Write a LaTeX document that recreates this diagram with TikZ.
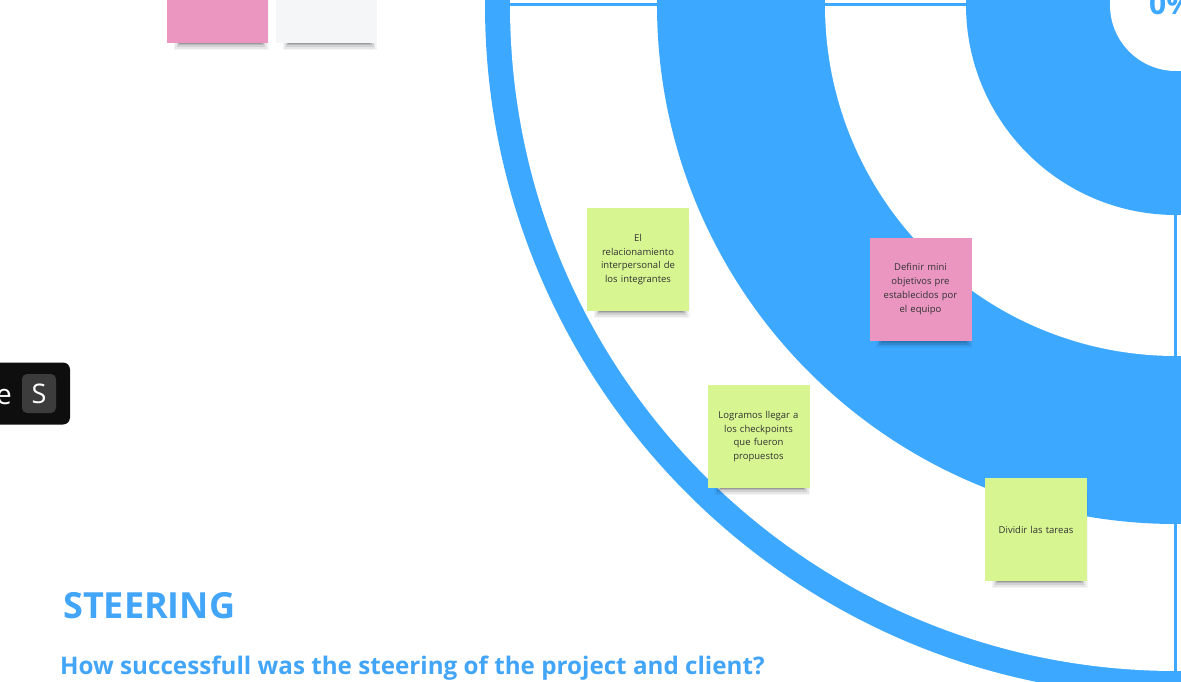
\documentclass[tikz,border=0pt]{standalone}
\usepackage{fontspec}
\setmainfont{Open Sans}
\usetikzlibrary{shadows}
\definecolor{tblue}{RGB}{60,168,255}
\definecolor{ttext}{RGB}{66,165,248}
\definecolor{sgreen}{RGB}{215,246,145}
\definecolor{spink}{RGB}{234,150,193}
\definecolor{swhite}{RGB}{245,246,248}
\definecolor{notetext}{RGB}{50,50,50}
\definecolor{tabblack}{RGB}{14,14,14}
\definecolor{keygray}{RGB}{60,60,60}
\begin{document}
\begin{tikzpicture}[x=1pt,y=-1pt,
  note/.style={minimum width=102pt, minimum height=103pt, inner sep=0pt,
    text width=96pt, align=center, font=\fontsize{9.5}{13.7}\selectfont, text=notetext,
    general shadow={fill=black, opacity=0.04, shadow scale=0.94, shadow xshift=4pt, shadow yshift=-11pt},
    general shadow={fill=black, opacity=0.06, shadow scale=0.91, shadow xshift=4pt, shadow yshift=-11.5pt},
    general shadow={fill=black, opacity=0.09, shadow scale=0.88, shadow xshift=4pt, shadow yshift=-12pt},
    general shadow={fill=black, opacity=0.12, shadow scale=0.85, shadow xshift=4pt, shadow yshift=-12pt},
    general shadow={fill=black, opacity=0.16, shadow scale=0.82, shadow xshift=4pt, shadow yshift=-12pt}},
  ring/.style={fill=tblue},
  hole/.style={fill=white},
  axis/.style={draw=tblue, line width=3pt},
  label/.style={anchor=base west, inner sep=0pt, text=ttext, font=\bfseries\fontsize{#1}{#1}\selectfont},
]
\useasboundingbox (0,0) rectangle (1181,682);
\begin{scope}
\clip (0,0) rectangle (1181,682);
\fill[ring] (1176,5) circle[radius=691pt];
\fill[hole] (1176,5) circle[radius=666pt];
\fill[ring] (1176,5) circle[radius=519pt];
\fill[hole] (1176,5) circle[radius=351pt];
\fill[ring] (1176,5) circle[radius=210pt];
\coordinate (c) at (1176,5);
\coordinate (hl) at (510,5);
\coordinate (hr) at (1181,5);
\coordinate (vb) at (1175.5,690);
\coordinate (vt) at (1175.5,5);
\draw[axis] (hl) -- (hr);
\draw[axis] (vt) -- (vb);
\fill[hole] (c) circle[radius=66pt];
\node[anchor=base west, inner sep=0pt, text=tblue, font=\bfseries\fontsize{30}{30}\selectfont] (pct) at (1149,15) {0\%};

% top-left notes
\node[note, fill=spink, minimum width=101pt] (tl1) at (217.5,-8.5) {};
\node[note, fill=swhite, minimum width=100pt] (tl2) at (326,-8.5) {};

% notes on target
\node[note, fill=sgreen] (n1) at (638,259.5) {El\\relacionamiento\\interpersonal de\\los integrantes};
\node[note, fill=spink] (n2) at (920.5,289) {Definir mini\\objetivos pre\\establecidos por\\el equipo};
\node[note, fill=sgreen] (n3) at (758.5,436.5) {Logramos llegar a\\los checkpoints\\que fueron\\propuestos};
\node[note, fill=sgreen] (n4) at (1036,529.5) {Dividir las tareas};

% black tab
\node[fill=tabblack, rounded corners=7pt, minimum width=85pt, minimum height=62pt, inner sep=0pt] (tab) at (27.5,393.5) {};
\node[anchor=base east, inner sep=0pt, text=white, font=\fontsize{28}{28}\selectfont] (tabe) at (12,404) {e};
\node[fill=keygray, rounded corners=5pt, minimum width=34pt, minimum height=39pt, inner sep=0pt, text=white, font=\fontsize{27}{27}\selectfont] (key) at (39,393.5) {S};

% titles
\node[label=36] (title) at (63,618) {STEERING};
\node[label=24.2] (question) at (60,674) {How successfull was the steering of the project and client?};
\end{scope}
\end{tikzpicture}
\end{document}
